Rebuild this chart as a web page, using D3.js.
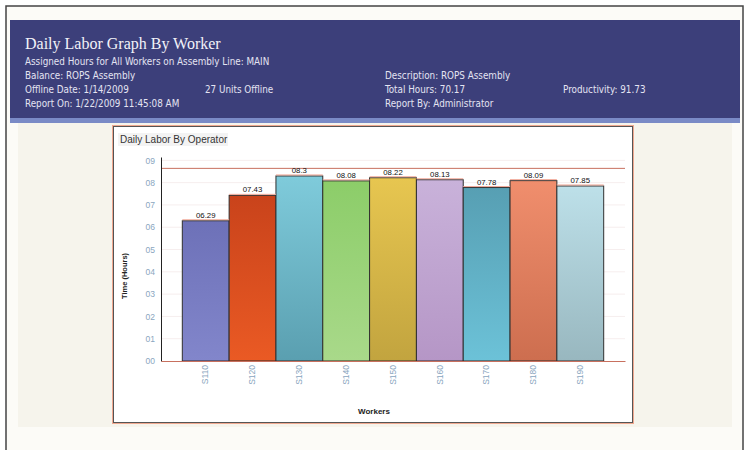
<!DOCTYPE html>
<html>
<head>
<meta charset="utf-8">
<script src="https://cdn.jsdelivr.net/npm/d3@7"></script>
<style>
  body { margin: 0; background: #fff; }
  svg { display: block; }
</style>
</head>
<body>
<div id="chart"></div>
<script>
// values
var workers = ["S110", "S120", "S130", "S140", "S150", "S160", "S170", "S180", "S190"];
var hours = [6.29, 7.43, 8.3, 8.08, 8.22, 8.13, 7.78, 8.09, 7.85];
var targetHours = 8.64;
var yTicks = [0, 1, 2, 3, 4, 5, 6, 7, 8, 9];
var barTop = ["#6d71b8", "#c9431b", "#7fcbdb", "#8ccd69", "#e7c650", "#c9b2da", "#579fb3", "#f08e6d", "#bde0e9"];
var barBottom = ["#8286cb", "#ea5a24", "#5a9fb0", "#a9d98a", "#c2a43f", "#b596c6", "#6cc2d8", "#cd6e4f", "#98b7bf"];

var headerTitle = "Daily Labor Graph By Worker";
var headerLines = [
    ["Assigned Hours for All Workers on Assembly Line: MAIN"],
    ["Balance: ROPS Assembly", "", "Description: ROPS Assembly", ""],
    ["Offline Date: 1/14/2009", "27 Units Offline", "Total Hours: 70.17", "Productivity: 91.73"],
    ["Report On: 1/22/2009 11:45:08 AM", "", "Report By: Administrator", ""]
];
var headerCols = [25, 205, 385, 563];

var W = 746, H = 450;

var svg = d3.select("#chart").append("svg")
    .attr("width", W)
    .attr("height", H);

var defs = svg.append("defs");
workers.forEach(function(w, i) {
    var g = defs.append("linearGradient")
        .attr("id", "bar" + i)
        .attr("x1", 0).attr("y1", 0).attr("x2", 0).attr("y2", 1);
    g.append("stop").attr("offset", "0%").attr("stop-color", barTop[i]);
    g.append("stop").attr("offset", "100%").attr("stop-color", barBottom[i]);
});

// page frame
svg.append("rect").attr("x", 6).attr("y", 6).attr("width", 737).attr("height", 450)
    .attr("fill", "#fcfbf7").attr("stroke", "#444").attr("stroke-width", 1.5);

// header band
svg.append("rect").attr("x", 10).attr("y", 20).attr("width", 730).attr("height", 99)
    .attr("fill", "#3c3f7a");
svg.append("rect").attr("x", 10).attr("y", 118).attr("width", 730).attr("height", 5)
    .attr("fill", "#7a8ac6");

svg.append("text").attr("x", 25).attr("y", 49)
    .style("font-family", "'Liberation Serif', 'Times New Roman', serif")
    .attr("font-size", 16)
    .attr("fill", "#f2f2f8")
    .text(headerTitle);

headerLines.forEach(function(line, r) {
    line.forEach(function(t, c) {
        if (!t) return;
        svg.append("text")
            .attr("x", headerCols[c])
            .attr("y", 65 + r * 14)
            .style("font-family", "'DejaVu Sans Condensed', 'DejaVu Sans', sans-serif")
            .attr("font-stretch", "condensed")
            .attr("font-size", 9.8)
            .attr("fill", "#e4e4f2")
            .text(t);
    });
});

// beige work area
svg.append("rect").attr("x", 18).attr("y", 123).attr("width", 714).attr("height", 304)
    .attr("fill", "#f6f4ec");

// chart panel
svg.append("rect").attr("x", 112.5).attr("y", 125.5).attr("width", 521).attr("height", 298)
    .attr("fill", "none").attr("stroke", "#f0a890").attr("stroke-width", 1);
svg.append("rect").attr("x", 113.5).attr("y", 126.5).attr("width", 519).attr("height", 296)
    .attr("fill", "#fff").attr("stroke", "#555").attr("stroke-width", 1);

svg.append("rect").attr("x", 118).attr("y", 133).attr("width", 110).attr("height", 13)
    .attr("fill", "#f3f3f3");
svg.append("text").attr("x", 120).attr("y", 143)
    .style("font-family", "'Liberation Sans', Arial, sans-serif")
    .attr("font-size", 10)
    .attr("fill", "#333")
    .text("Daily Labor By Operator");

var plotLeft = 161, plotRight = 625, plotTop = 157, plotBottom = 361;

var x = d3.scaleBand()
    .domain(workers)
    .range([plotLeft, plotRight])
    .paddingInner(0)
    .paddingOuter(0.455);

var y = d3.scaleLinear()
    .domain([0, 9.15])
    .range([plotBottom, plotTop]);

var two = function(v) { return (v < 10 ? "0" : "") + v; };

// faint grid
svg.append("g").selectAll("line").data(yTicks.slice(1)).join("line")
    .attr("x1", plotLeft).attr("x2", plotRight)
    .attr("y1", function(d) { return y(d); })
    .attr("y2", function(d) { return y(d); })
    .attr("stroke", "#f6eeee");

// target line
svg.append("line")
    .attr("x1", plotLeft).attr("x2", plotRight)
    .attr("y1", y(targetHours)).attr("y2", y(targetHours))
    .attr("stroke", "#c8705e").attr("stroke-width", 1);

// bars
svg.append("g").selectAll("rect").data(hours).join("rect")
    .attr("x", function(d, i) { return x(workers[i]); })
    .attr("y", function(d) { return y(d); })
    .attr("width", x.bandwidth())
    .attr("height", function(d) { return plotBottom - y(d); })
    .attr("fill", function(d, i) { return "url(#bar" + i + ")"; })
    .attr("stroke", "#2f2f2f")
    .attr("stroke-width", 1);

svg.append("g").selectAll("line").data(hours).join("line")
    .attr("x1", function(d, i) { return x(workers[i]); })
    .attr("x2", function(d, i) { return x(workers[i]) + x.bandwidth(); })
    .attr("y1", function(d) { return y(d) - 1; })
    .attr("y2", function(d) { return y(d) - 1; })
    .attr("stroke", "#f0a898").attr("stroke-width", 1);

svg.append("g").selectAll("text").data(hours).join("text")
    .attr("x", function(d, i) { return x(workers[i]) + x.bandwidth() / 2; })
    .attr("y", function(d) { return y(d) - 3; })
    .attr("text-anchor", "middle")
    .style("font-family", "'Liberation Sans', Arial, sans-serif")
    .attr("font-size", 7.8)
    .attr("fill", "#111")
    .text(two);

// y axis
var yAxis = d3.axisLeft(y).tickValues(yTicks).tickSize(0).tickPadding(6).tickFormat(two);
var gy = svg.append("g").attr("transform", "translate(" + plotLeft + ",0)").call(yAxis);
gy.select(".domain").attr("stroke", "#222");
gy.selectAll("text")
    .style("font-family", "'Liberation Sans', Arial, sans-serif")
    .attr("font-size", 8.5)
    .attr("fill", "#8aa6c0");

// x axis
var xAxis = d3.axisBottom(x).tickSize(0).tickPadding(0);
var gx = svg.append("g").attr("transform", "translate(0," + plotBottom + ")").call(xAxis);
gx.select(".domain").attr("stroke", "#c8705e");
gx.selectAll("text")
    .attr("transform", "rotate(-90)")
    .attr("x", -4).attr("y", 0).attr("dy", "0.32em")
    .attr("text-anchor", "end")
    .style("font-family", "'Liberation Sans', Arial, sans-serif")
    .attr("font-size", 8.5)
    .attr("fill", "#8aa6c0");

// axis titles
svg.append("text")
    .attr("transform", "translate(127,276) rotate(-90)")
    .attr("text-anchor", "middle")
    .style("font-family", "'Liberation Sans', Arial, sans-serif")
    .attr("font-size", 7.5)
    .attr("font-weight", "bold")
    .attr("fill", "#222")
    .text("Time (Hours)");

svg.append("text")
    .attr("x", 374).attr("y", 414)
    .attr("text-anchor", "middle")
    .style("font-family", "'Liberation Sans', Arial, sans-serif")
    .attr("font-size", 8)
    .attr("font-weight", "bold")
    .attr("fill", "#222")
    .text("Workers");
</script>
</body>
</html>
